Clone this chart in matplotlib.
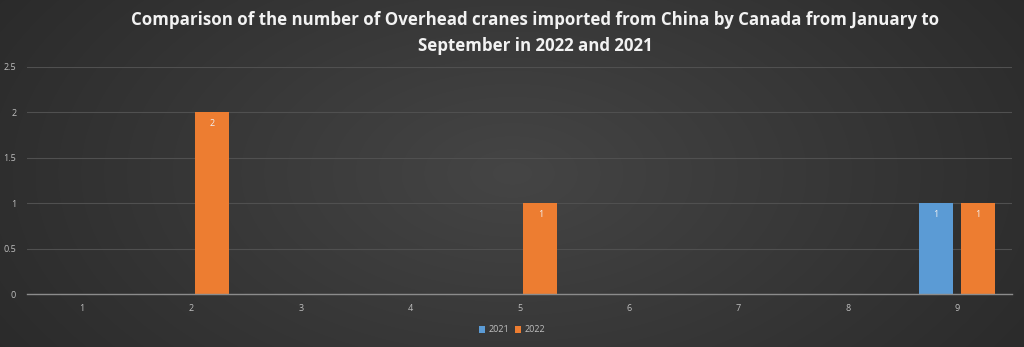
import numpy as np
import matplotlib
matplotlib.use("Agg")
import matplotlib.pyplot as plt

months = ["1", "2", "3", "4", "5", "6", "7", "8", "9"]
series_2021 = [0, 0, 0, 0, 0, 0, 0, 0, 1]
series_2022 = [0, 2, 0, 0, 1, 0, 0, 0, 1]
title = "Comparison of the number of Overhead cranes imported from China by Canada from January to\nSeptember in 2022 and 2021"

plt.rcParams['font.family'] = ['Open Sans', 'DejaVu Sans']

fig = plt.figure(figsize=(10.24, 3.47), dpi=100)

# radial gradient background
bg = fig.add_axes([0, 0, 1, 1], zorder=-10)
yy, xx = np.mgrid[0:347, 0:1024]
d = np.sqrt(((xx - 512) / 700.0) ** 2 + ((yy - 173) / 400.0) ** 2)
val = 0.27 - 0.12 * d
val = np.clip(val, 0.12, 0.3)
bg.imshow(np.dstack([val, val, val]), aspect='auto', extent=[0, 1, 0, 1])
bg.axis('off')

ax = fig.add_axes([27.3 / 1024, 1 - 294 / 347, (1011.7 - 27.3) / 1024, (294 - 67) / 347])
ax.set_facecolor('none')
x = np.arange(len(months))
w = 0.31
off = 0.19
b1 = ax.bar(x - off, series_2021, w, color='#5b9bd5', label='2021', zorder=3)
b2 = ax.bar(x + off, series_2022, w, color='#ed7d31', label='2022', zorder=3)
for bars, vals in ((b1, series_2021), (b2, series_2022)):
    for rect, v in zip(bars, vals):
        if v > 0:
            ax.text(rect.get_x() + rect.get_width() / 2, v - 0.07, str(v),
                    ha='center', va='top', color='#f2f2f2', fontsize=6.5, zorder=4)

ax.set_xlim(-0.5, len(months) - 0.5)
ax.set_ylim(0, 2.5)
ax.set_yticks([0, 0.5, 1, 1.5, 2, 2.5])
ax.set_yticklabels(["0", "0.5", "1", "1.5", "2", "2.5"])
ax.set_xticks(x)
ax.set_xticklabels(months)
ax.tick_params(axis='both', length=0, colors='#bfbfbf', labelsize=6.5)
ax.tick_params(axis='x', pad=7)
ax.tick_params(axis='y', pad=8)
ax.grid(axis='y', color='#505050', linewidth=0.8, zorder=0)
for s in ['top', 'right', 'left']:
    ax.spines[s].set_visible(False)
ax.spines['bottom'].set_color('#8c8c8c')
ax.spines['bottom'].set_linewidth(1.0)
ax.spines['bottom'].set_zorder(5)

fig.text(0.523, 1 - 33 / 347, title, ha='center', va='center', color='#f2f2f2',
         fontsize=12.2, fontweight='bold', linespacing=1.55)

leg = fig.legend(loc='center', bbox_to_anchor=(0.5, 1 - 330 / 347), ncol=2, frameon=False,
                 fontsize=6.5, handlelength=0.7, handleheight=0.7, handletextpad=0.4,
                 columnspacing=0.6, labelcolor='#bfbfbf')

fig.savefig('out.png', dpi=100)
